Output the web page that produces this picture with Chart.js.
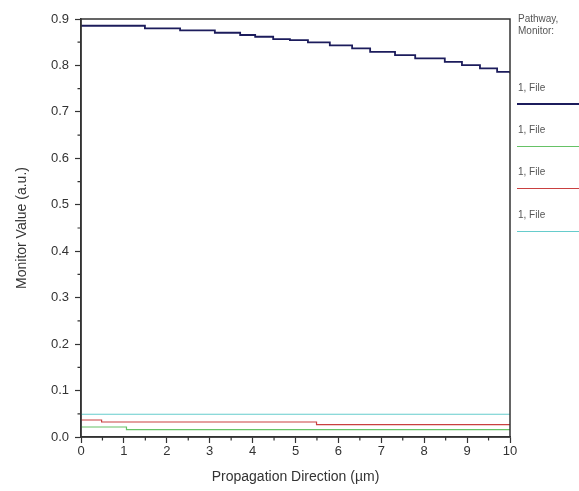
<!DOCTYPE html>
<html>
  <head>
    <meta charset="utf-8">
    <title>Monitor Value</title>
    <script src="https://cdn.jsdelivr.net/npm/chart.js"></script>
    <style>
      body { margin: 0; background: #fff; font-family: "Liberation Sans", Arial, sans-serif; }
      #wrap { position: relative; width: 579px; height: 491px; }
      #legend { position: absolute; left: 517px; top: 0; width: 62px; font-size: 10px; color: #555; }
      #legend .head { position: absolute; left: 1px; top: 13px; line-height: 12px; }
      #legend .item { position: absolute; left: 1px; }
      #legend .swatch { position: absolute; left: 0; width: 62px; }
    </style>
  </head>
  <body>
    <div id="wrap">
      <canvas id="chart" width="579" height="491"></canvas>
      <div id="legend"><div class="head">Pathway,<br>Monitor:</div></div>
    </div>
    <script>
      // data
      const xTicks = [0, 1, 2, 3, 4, 5, 6, 7, 8, 9, 10];
      const yTicks = [0.0, 0.1, 0.2, 0.3, 0.4, 0.5, 0.6, 0.7, 0.8, 0.9];

      const legendLabels = ['1, File', '1, File', '1, File', '1, File'];
      const seriesColors = ['#1c1c5c', '#66c266', '#c94040', '#66cccc'];

      const navyX = [0, 1.49, 2.31, 3.12, 3.71, 4.06, 4.48, 4.87, 5.29, 5.80, 6.32, 6.74, 7.32, 7.79, 8.48, 8.88, 9.30, 9.70, 10];
      const navyY = [0.8855, 0.880, 0.8756, 0.8704, 0.8655, 0.8618, 0.8568, 0.8547, 0.8497, 0.8432, 0.8368, 0.8294, 0.8223, 0.8152, 0.8078, 0.8007, 0.7936, 0.7863, 0.783];
      const greenX = [0, 1.06, 10];
      const greenY = [0.0215, 0.0157, 0.0157];
      const redX = [0, 0.48, 5.49, 10];
      const redY = [0.0366, 0.0323, 0.0265, 0.0265];
      const cyanX = [0, 10];
      const cyanY = [0.049, 0.049];

      const pairs = (xs, ys) => xs.map((x, i) => ({ x: x, y: ys[i] }));
      const seriesX = [navyX, greenX, redX, cyanX];
      const seriesY = [navyY, greenY, redY, cyanY];

      const axisColor = '#333';
      const tickFont = { family: '"Liberation Sans", Arial, sans-serif', size: 13 };

      // box around plot + minor ticks
      const frame = {
        id: 'frame',
        afterDraw(chart) {
          const { ctx, chartArea: a, scales } = chart;
          ctx.save();
          ctx.strokeStyle = axisColor;
          ctx.lineWidth = 1.5;
          ctx.strokeRect(a.left, a.top, a.right - a.left, a.bottom - a.top);
          ctx.lineWidth = 1.2;
          ctx.beginPath();
          for (let i = 0; i < xTicks.length - 1; i++) {
            const px = scales.x.getPixelForValue(xTicks[i] + 0.5);
            ctx.moveTo(px, a.bottom);
            ctx.lineTo(px, a.bottom + 3.5);
          }
          for (let i = 0; i < yTicks.length - 1; i++) {
            const py = scales.y.getPixelForValue(yTicks[i] + 0.05);
            ctx.moveTo(a.left, py);
            ctx.lineTo(a.left - 3.5, py);
          }
          ctx.stroke();
          ctx.restore();
        }
      };

      const chart = new Chart(document.getElementById('chart'), {
        type: 'line',
        data: {
          datasets: seriesX.map((xs, i) => ({
            label: legendLabels[i],
            data: pairs(xs, seriesY[i]),
            borderColor: seriesColors[i],
            borderWidth: i === 0 ? 1.8 : 1.2,
            stepped: true,
            pointRadius: 0,
            fill: false
          }))
        },
        options: {
          responsive: false,
          animation: false,
          layout: { padding: { top: 19, right: 69, left: 0, bottom: 0 } },
          plugins: { legend: { display: false }, tooltip: { enabled: false } },
          scales: {
            x: {
              type: 'linear',
              min: 0, max: 10,
              afterBuildTicks: (s) => { s.ticks = xTicks.map(v => ({ value: v })); },
              afterFit: (s) => { s.height = 54; },
              ticks: { color: '#333', font: tickFont, padding: 1, maxRotation: 0 },
              grid: { drawOnChartArea: false, tickLength: 6, color: axisColor, tickColor: axisColor, tickWidth: 1.2 },
              border: { color: axisColor, width: 1.5 },
              title: { display: true, text: 'Propagation Direction (µm)', color: '#333',
                       font: { family: '"Liberation Sans", Arial, sans-serif', size: 14 }, padding: { top: 0, bottom: 5 } }
            },
            y: {
              min: 0, max: 0.9,
              afterBuildTicks: (s) => { s.ticks = yTicks.map(v => ({ value: v })); },
              afterFit: (s) => { s.width = 81; },
              ticks: { color: '#333', font: tickFont, padding: 6, callback: v => v.toFixed(1) },
              grid: { drawOnChartArea: false, tickLength: 6, color: axisColor, tickColor: axisColor, tickWidth: 1.2 },
              border: { color: axisColor, width: 1.5 },
              title: { display: true, text: 'Monitor Value (a.u.)', color: '#333',
                       font: { family: '"Liberation Sans", Arial, sans-serif', size: 14 }, padding: { top: 14, bottom: 0 } }
            }
          }
        },
        plugins: [frame]
      });

      // legend on the right, built from the series
      const legendEl = document.getElementById('legend');
      const textTops = [82, 124, 166, 209];
      const lineTops = [103, 146, 188, 231];
      legendLabels.forEach((label, i) => {
        const t = document.createElement('div');
        t.className = 'item';
        t.style.top = textTops[i] + 'px';
        t.textContent = label;
        legendEl.appendChild(t);
        const l = document.createElement('div');
        l.className = 'swatch';
        l.style.top = lineTops[i] + 'px';
        l.style.height = (i === 0 ? 2 : 1) + 'px';
        l.style.background = seriesColors[i];
        legendEl.appendChild(l);
      });
    </script>
  </body>
</html>
